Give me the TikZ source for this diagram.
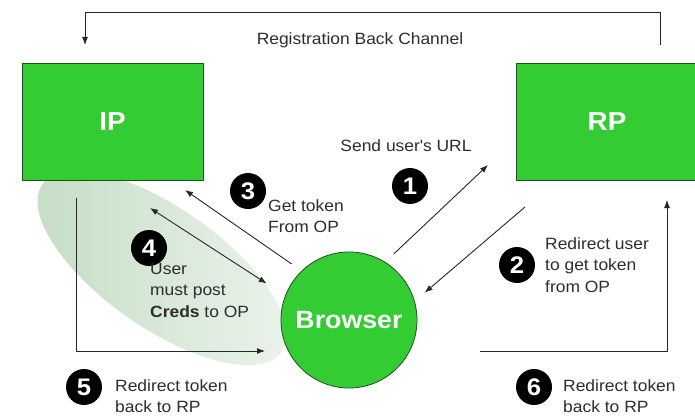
\documentclass[tikz,border=0pt]{standalone}
\usepackage{fontspec}
\setmainfont{Liberation Sans}[FakeStretch=1.07]
\usetikzlibrary{arrows.meta}
\definecolor{boxgreen}{RGB}{51,204,51}
\definecolor{rimgreen}{RGB}{30,80,30}
\definecolor{blobgreen}{RGB}{196,220,196}
\definecolor{blobpale}{RGB}{236,244,236}
\definecolor{inkgrey}{RGB}{45,45,45}

\begin{document}
\begin{tikzpicture}[x=1pt,y=-1pt,
		party/.style={draw=rimgreen,line width=0.8pt,fill=boxgreen,text=white,inner sep=0pt,
			minimum width=181pt,minimum height=117pt,font=\fontsize{26}{26}\selectfont\bfseries},
		badge/.style={circle,fill=black,text=white,inner sep=0pt,minimum size=36pt,
			font=\fontsize{24}{24}\selectfont\bfseries},
		note/.style={align=left,inner sep=0pt,text=inkgrey,font=\fontsize{16.3}{21.5}\selectfont},
		flow/.style={line width=0.9pt,draw=black!85,-{Latex[length=8pt,width=6pt]}}]
			\useasboundingbox (0,0) rectangle (695,417);
			% pale blob round the login steps
			\shade[rotate around={-35:(162,268)},left color=blobgreen,right color=blobpale] (162,268) ellipse (146 and 60);
			
			\node[party] (ip) at (112.5,121.5) {IP};
			\node[party] (rp) at (607,121.5) {RP};
			\node[circle,draw=rimgreen,line width=0.8pt,fill=boxgreen,text=white,inner sep=0pt,
				minimum size=136pt,font=\fontsize{25}{25}\selectfont\bfseries] (browser) at (349,320) {Browser};
			
			\node[badge] (b1) at (410,186) {1};
			\node[badge] (b2) at (517,265) {2};
			\node[badge] (b3) at (248,191) {3};
			\node[badge] (b4) at (149,248) {4};
			\node[badge] (b5) at (84,387) {5};
			\node[badge] (b6) at (534,387) {6};
			
			\node[note] (chan) at (360,40) {Registration Back Channel};
			\node[note] (url) at (406,146) {Send user\textquotesingle s URL};
			\node[note,anchor=west] (t2) at (545,265) {Redirect user\\to get token\\from OP};
			\node[note,anchor=west] (t3) at (268,216) {Get token\\From OP};
			\node[note,anchor=west] (t4) at (150,290) {User\\must post\\{\bfseries Creds} to OP};
			\node[note,anchor=west] (t5) at (115,396) {Redirect token\\back to RP};
			\node[note,anchor=west] (t6) at (563,396) {Redirect token\\back to RP};
			
			\coordinate (chanR) at (660,45);
			\coordinate (chanL) at (85,45);
			\coordinate (urlTip) at (488,165);
			\coordinate (redirTail) at (525,207);
			\coordinate (tokTip) at (185,190);
			\coordinate (credTip) at (150,208);
			\coordinate (ipDrop) at (76,198);
			\coordinate (brIn) at (265,351);
			\coordinate (brOut) at (480,351);
			\coordinate (rpRise) at (667,200);
			
			\draw[flow] (chanR) -- ++(0,-33) -| (chanL);
			\draw[flow,shorten <=12pt] (browser.58) -- (urlTip);
			\draw[flow,shorten >=13pt] (redirTail) -- (browser.16);
			\draw[flow,shorten <=12pt] (browser.134) -- (tokTip);
			\draw[flow,{Latex[length=8pt,width=6pt]}-{Latex[length=8pt,width=6pt]},shorten >=22pt] (credTip) -- (browser.159);
			\draw[flow] (ipDrop) |- (brIn);
			\draw[flow] (brOut) -| (rpRise);
		\end{tikzpicture}
\end{document}
